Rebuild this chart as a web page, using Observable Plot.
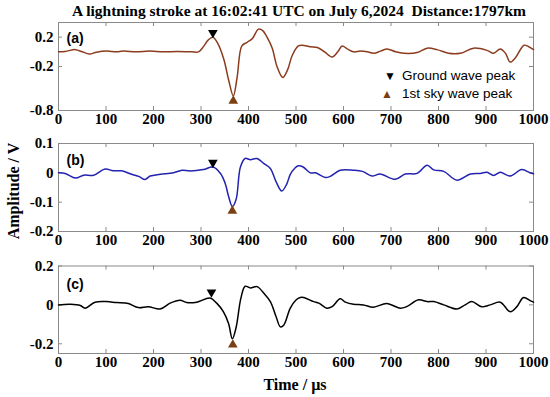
<!DOCTYPE html>
<html><head><meta charset="utf-8">
<script src="https://cdn.jsdelivr.net/npm/d3@7"></script>
<script src="https://cdn.jsdelivr.net/npm/@observablehq/plot@0.6"></script>
<style>
body{margin:0;background:#fff}
#wrap{position:relative;width:550px;height:397px;overflow:hidden;background:#fff}
.p{position:absolute;left:0}
.serif{font-family:'Liberation Serif','Times New Roman',serif;font-weight:bold;color:#000;position:absolute;white-space:pre}
.leg{position:absolute;font-family:'Liberation Sans',Arial,sans-serif;font-size:13.5px;line-height:16px;white-space:nowrap;color:#000}
</style></head><body><div id="wrap"></div>
<script>
const title = "A lightning stroke at 16:02:41 UTC on July 6,2024  Distance:1797km";
const yLabel = "Amplitude / V";
const xLabel = "Time / µs";
const xTicks = [0,100,200,300,400,500,600,700,800,900,1000];

// Panel (a)
const tA = [0,14,36,50,65,80,101,122,136,164,192,220,250,280,295,305,315,325,335,348,358,368,376,386,397,408,421,430,439,450,460,472,482,492,505,513,530,545,560,576,588,597,608,621,636,650,664,678,692,710,727,755,776,797,821,846,874,902,916,930,941,951,962,980,990,1000];
const vA = [0,0.005,0.03,0,-0.03,-0.005,0.01,0,0.01,0,0.01,0,0.005,0,0,0.07,0.16,0.2,0.12,-0.1,-0.38,-0.6,-0.35,0.08,0.13,0.18,0.31,0.29,0.2,0.05,-0.2,-0.35,-0.25,-0.05,0.08,0.09,0.07,0.06,0,-0.07,0,0.08,0.04,0,0.01,0,-0.02,0.01,0.04,0,-0.02,-0.01,0.05,0.03,-0.02,-0.02,0.05,0.02,-0.02,0.04,-0.02,-0.14,-0.08,0.09,0.07,0.03];
const yTicksA = [0.2,-0.2,-0.8];

// Panel (b)
const tB = [0,14,36,53,74,98,115,133,154,170,182,193,214,242,260,277,305,325,341,351,358,366,374,383,393,404,418,432,446,458,470,480,488,497,505,515,530,541,562,572,593,621,640,660,677,709,730,755,776,790,811,839,867,888,902,916,930,951,975,993,1000];
const vB = [0,-0.002,-0.018,-0.008,-0.008,0.013,0.007,0.007,-0.005,-0.013,-0.023,-0.011,-0.005,0,0.009,0.006,0.011,0.02,-0.002,-0.036,-0.08,-0.115,-0.09,0.02,0.049,0.045,0.049,0.032,0.015,-0.03,-0.062,-0.04,-0.005,0.015,0.024,0.02,0,0,-0.016,-0.012,0.009,0.009,0.005,-0.011,-0.004,-0.022,-0.004,-0.002,0.026,0.01,0.005,-0.025,-0.004,-0.002,0.002,-0.009,0.002,-0.011,0.011,0,-0.003];
const yTicksB = [0.1,0,-0.1,-0.2];

// Panel (c)
const tC = [0,25,46,56,77,101,122,147,168,189,214,235,256,270,291,319,333,347,358,366,374,384,393,404,418,432,446,458,467,474,488,500,509,516,537,548,565,576,593,604,621,642,663,691,719,733,758,776,790,811,839,856,870,891,909,930,951,965,979,993,1000];
const vC = [0,0.003,-0.003,-0.017,0.014,0.017,0.012,0.007,-0.014,-0.009,-0.021,0.009,0.024,0.012,0.014,0.035,0.009,-0.035,-0.096,-0.174,-0.115,0.035,0.096,0.087,0.094,0.061,0.017,-0.06,-0.113,-0.105,-0.017,0.025,0.038,0.038,0.017,0.009,-0.017,-0.009,0.031,0.014,0.003,0,-0.012,0.007,-0.017,-0.009,0.026,0.017,0.017,0,-0.021,0,0.017,-0.01,0,0.014,-0.035,-0.009,0.038,0.022,0.014];
const yTicksC = [0.2,0,-0.2];

// Peak markers per panel (a,b,c)
const gwT = [325,325,322], gwV = [0.26,0.035,0.065];
const skyT = [368,366,367], skyV = [-0.67,-0.13,-0.205];
const panelLabels = ["(a)","(b)","(c)"];
const colors = ["#8c3c1e","#2323b0","#000000"];
const skyColor = "#7b3f12";

const wrap = document.getElementById("wrap");
const W = 550, ML = 58, MR = 17;
const FW = W - ML - MR;

function panel(i, t, v, domain, yTicks, top, height, mt, mb, ldy) {
  const data = t.map((d,k)=>({t:d, v:v[k]}));
  const h = height - mt - mb;
  const chart = Plot.plot({
    width: W, height, marginLeft: ML, marginRight: MR, marginTop: mt, marginBottom: mb,
    style: {fontFamily:"'Liberation Serif','Times New Roman',serif", fontWeight:"bold", fontSize:"15px", background:"transparent", color:"#000"},
    x: {domain:[0,1000]},
    y: {domain},
    marks: [
      Plot.frame({stroke:"#8a8a8a"}),
      Plot.tickX(xTicks, {x:d=>d, stroke:"#8a8a8a", insetTop:h-4}),
      Plot.tickX(xTicks, {x:d=>d, stroke:"#8a8a8a", insetBottom:h-4}),
      Plot.tickY(yTicks, {y:d=>d, stroke:"#8a8a8a", insetRight:FW-4}),
      Plot.tickY(yTicks, {y:d=>d, stroke:"#8a8a8a", insetLeft:FW-4}),
      Plot.axisX(xTicks, {tickSize:0, tickPadding:3, label:null, tickFormat:d=>String(d)}),
      Plot.axisY(yTicks, {tickSize:0, tickPadding:5, label:null, tickFormat:d=>String(d)}),
      Plot.line(data, {x:"t", y:"v", stroke:colors[i], strokeWidth:1.5, curve:"catmull-rom"}),
      Plot.dot([{t:gwT[i], v:gwV[i]}], {x:"t", y:"v", symbol:"triangle", rotate:180, fill:"#000", stroke:"none", r:3.6}),
      Plot.dot([{t:skyT[i], v:skyV[i]}], {x:"t", y:"v", symbol:"triangle", fill:skyColor, stroke:"none", r:3.6}),
      Plot.text([panelLabels[i]], {frameAnchor:"top-left", dx:8, dy:ldy, textAnchor:"start", fontFamily:"'Liberation Sans',Arial,sans-serif", fontSize:14, fontWeight:"bold"})
    ]
  });
  chart.classList.add("p");
  chart.style.top = top + "px";
  wrap.appendChild(chart);
}

panel(0, tA, vA, [-0.8,0.4], yTicksA, 0, 131, 22, 21, 11);
panel(1, tB, vB, [-0.2,0.1], yTicksB, 125, 131, 18, 25, 12);
panel(2, tC, vC, [-0.25,0.2], yTicksC, 250, 147, 15.5, 44, 13.5);

function addText(txt, cls, css) {
  const d = document.createElement("div");
  d.className = cls; d.textContent = txt;
  Object.assign(d.style, css);
  wrap.appendChild(d);
  return d;
}
addText(title, "serif", {fontSize:"15.5px", top:"2px", left:"0px", width:"598px", textAlign:"center"});
addText(xLabel, "serif", {fontSize:"16px", top:"376px", left:"0px", width:"590px", textAlign:"center"});
addText(yLabel, "serif", {fontSize:"16px", left:"-36px", top:"182px", width:"100px", textAlign:"center", transform:"rotate(-90deg)"});

// Legend
addText("▼", "leg", {left:"384px", top:"68px", fontSize:"12px"});
addText("Ground wave peak", "leg", {left:"402px", top:"68px"});
const s = addText("▲", "leg", {left:"381px", top:"86px", fontSize:"12px"});
s.style.color = skyColor;
addText("1st sky wave peak", "leg", {left:"402px", top:"86px"});
</script></body></html>
